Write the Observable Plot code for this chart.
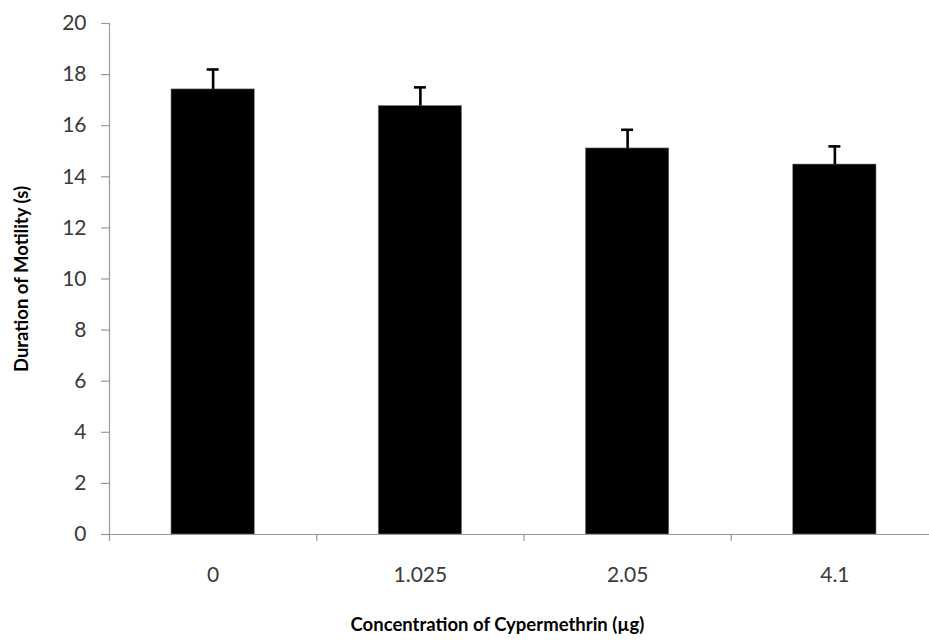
<!DOCTYPE html>
<html>
<head>
<meta charset="utf-8">
<script src="https://cdn.jsdelivr.net/npm/d3@7"></script>
<script src="https://cdn.jsdelivr.net/npm/@observablehq/plot@0.6"></script>
<style>
  html, body { margin: 0; padding: 0; background: #fff; overflow: hidden; }
  svg { overflow: hidden; }
</style>
</head>
<body>
<div id="chart"></div>
<script>
const categories = ["0", "1.025", "2.05", "4.1"];
const values = [17.42, 16.77, 15.11, 14.48];
const errors = [0.78, 0.73, 0.73, 0.71];
const yTicks = [0, 2, 4, 6, 8, 10, 12, 14, 16, 18, 20];
const xTitle = "Concentration of Cypermethrin (µg)";
const yTitle = "Duration of Motility (s)";

const data = categories.map((c, i) => ({i, c, v: values[i], e: errors[i]}));
const font = "Lato, 'Open Sans', sans-serif";
const axisColor = "#9a9a9a";
const textColor = "#3a3a3a";

const chart = Plot.plot({
  width: 929,
  height: 643,
  marginTop: 23,
  marginBottom: 109,
  marginLeft: 109,
  marginRight: 0,
  style: {fontFamily: font, background: "#fff"},
  x: {domain: [0, categories.length], range: [109, 938], axis: null},
  y: {domain: [0, 20], axis: null},
  marks: [
    Plot.rectY(data, {x1: d => d.i, x2: d => d.i + 1, y: "v", fill: "#000", stroke: "#777", strokeWidth: 0.6, insetLeft: 62, insetRight: 62}),
    Plot.ruleX(data, {x: d => d.i + 0.5, y1: "v", y2: d => d.v + d.e, stroke: "#000", strokeWidth: 2.6}),
    Plot.ruleY(data, {x1: d => d.i + 0.5, x2: d => d.i + 0.5, y: d => d.v + d.e, stroke: "#000", strokeWidth: 2.6, insetLeft: -6, insetRight: -6}),
    Plot.ruleX([0], {y1: 0, y2: 20, stroke: axisColor, strokeWidth: 1.2}),
    Plot.ruleY([0], {stroke: axisColor, strokeWidth: 1.2}),
    Plot.axisY({ticks: yTicks, tickSize: 8, tickPadding: 15, stroke: axisColor, strokeWidth: 1.2, fill: textColor, fontSize: 21, label: null}),
    Plot.axisX({ticks: d3.range(categories.length + 1), tickSize: 7, stroke: axisColor, strokeWidth: 1.2, tickFormat: () => "", label: null}),
    Plot.axisX({ticks: data.map(d => d.i + 0.5), tickSize: 0, tickPadding: 33, fill: textColor, fontSize: 21, tickFormat: (t) => categories[Math.floor(t)], label: null}),
    Plot.text([xTitle], {frameAnchor: "bottom-left", dx: 388, dy: 96, text: d => d, fontSize: 18.5, fontWeight: "bold", fill: "#000", textAnchor: "middle"}),
    Plot.text([yTitle], {frameAnchor: "left", dx: -87, text: d => d, fontSize: 18.5, fontWeight: "bold", fill: "#000", rotate: -90, textAnchor: "middle"})
  ]
});
document.getElementById("chart").appendChild(chart);
</script>
</body>
</html>
